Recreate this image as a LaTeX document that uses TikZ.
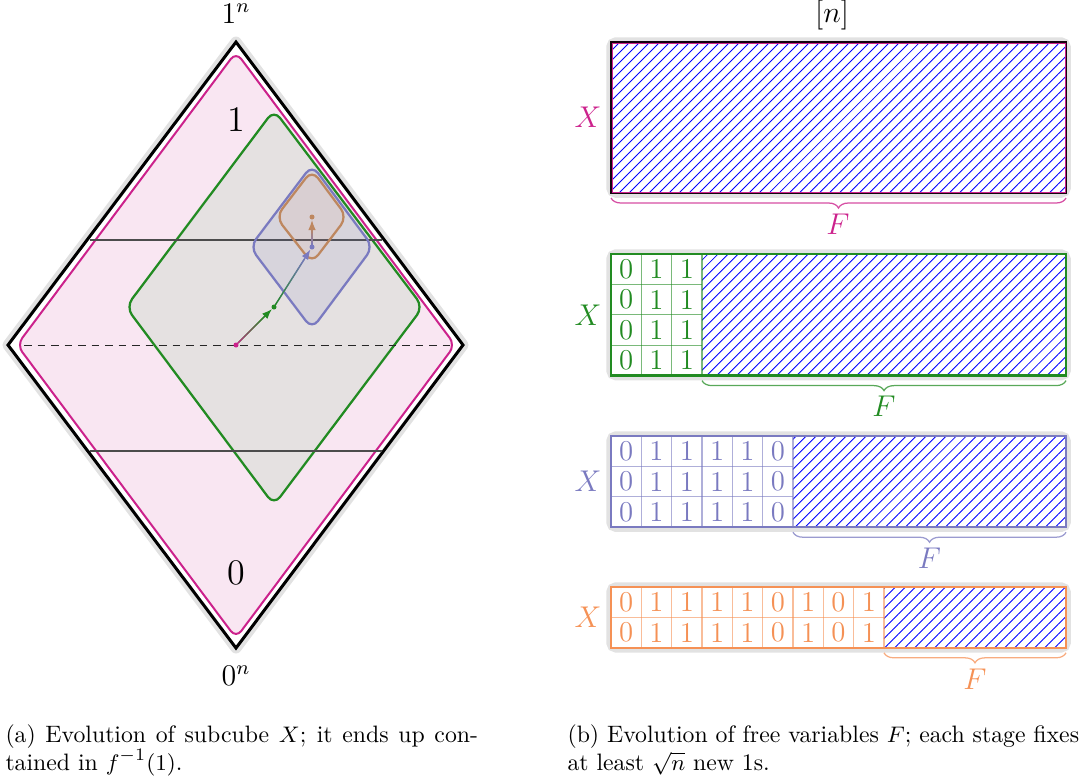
\documentclass[tikz,border=0pt]{standalone}
\usetikzlibrary{arrows.meta,patterns.meta,decorations.pathreplacing,calc}
\definecolor{mag}{RGB}{204,34,140}
\definecolor{magfill}{RGB}{249,230,242}
\definecolor{grn}{RGB}{34,139,34}
\definecolor{pur}{RGB}{122,122,192}
\definecolor{org}{RGB}{245,145,85}
\definecolor{brn}{RGB}{190,135,95}
\definecolor{halo}{RGB}{226,226,226}
\definecolor{graypanel}{RGB}{229,225,225}
\tikzset{
  dotnode/.style={circle,inner sep=0pt,minimum size=2pt},
  digit/.style={inner sep=0pt,font=\fontsize{11.5}{13}\selectfont},
  biglab/.style={font=\fontsize{15.5}{18}\selectfont},
  lab/.style={font=\large},
  caption/.style={anchor=base west,inner sep=0pt,font=\fontsize{9.5}{11}\selectfont},
  hatch/.style={pattern={Lines[angle=45,distance=2.83pt,line width=0.35pt]},pattern color=blue},
  halo line/.style={line width=3.8pt,halo,rounded corners=2pt},
  levelline/.style={black!70,line width=0.6pt},
  fbrace/.style={decorate,decoration={brace,mirror,amplitude=4pt},line width=0.5pt},
}
\newcommand\gradarrow[5]{% #1 from, #2 to, #3 start colour, #4 end colour, #5 fraction
  \draw[#4,line width=0.5pt,-{Latex[length=4pt,width=3pt]}] (#1) -- (#2);
  \foreach \k in {0,...,9} {
    \pgfmathtruncatemacro\pa{100-\k*10}
    \draw[#3!\pa!#4,line width=0.55pt] ($(#1)!{\k/10*#5}!(#2)$) -- ($(#1)!{(\k+1)/10*#5}!(#2)$);
  }
}
\newcommand\drawpanel[6]{% #1 top, #2 rows, #3 digits, #4 fixed cols, #5 colour, #6 name
  \pgfmathsetmacro\ybot{#1+30.4*#2}
  \pgfmathsetmacro\xh{611+30.33*#4}
  \draw[halo line] (611,#1) rectangle (1066,\ybot);
  \fill[white] (611,#1) rectangle (1066,\ybot);
  \fill[hatch] (\xh,#1) rectangle (1066,\ybot);
  \foreach \d [count=\i] in {#3} {
    \foreach \j in {1,...,#2} {
      \node[digit,text=#5] at ({611+30.33*(\i-0.5)},{#1+30.4*(\j-0.5)}) {\d};
    }
    \draw[#5,opacity=0.6,line width=0.5pt] ({611+30.33*\i},#1) -- ({611+30.33*\i},\ybot);
  }
  \foreach \j in {1,...,#2} {
    \draw[#5,opacity=0.6,line width=0.5pt] (611,{#1+30.4*\j}) -- (\xh,{#1+30.4*\j});
  }
  \draw[#5,line width=1pt] (611,#1) rectangle (1066,\ybot);
  \node[lab,text=#5] (X#6) at (588,{(#1+\ybot)/2}) {$X$};
  \coordinate (bl#6) at (\xh,\ybot+5);
  \coordinate (br#6) at (1066,\ybot+5);
  \draw[fbrace,#5!75] (bl#6) -- (br#6);
  \node[lab,text=#5] (F#6) at ({(\xh+1066)/2},\ybot+31) {$F$};
}
\begin{document}
\begin{tikzpicture}[x=0.4pt,y=-0.4pt]
\useasboundingbox (0,0) rectangle (1083,782);
% ---------- left: hypercube diamond ----------
\coordinate (T) at (236,42);
\coordinate (R) at (463,345);
\coordinate (B) at (236,648);
\coordinate (L) at (8,345);
\draw[line width=4.4pt,halo,line join=round] (T)--(R)--(B)--(L)--cycle;
\fill[white] (T)--(R)--(B)--(L)--cycle;
\draw[line width=1.2pt,black] (T)--(R)--(B)--(L)--cycle;
\draw[mag,line width=0.8pt,fill=magfill,rounded corners=3.5pt] (236,52)--(455,345)--(236,638)--(17,345)--cycle;
\draw[grn,line width=0.9pt,fill=graypanel,rounded corners=4pt] (274,110)--(423,307)--(274,505)--(126,307)--cycle;
\draw[levelline] (90,240) -- (382,240);
\draw[levelline] (90,451) -- (382,451);
\draw[black!85,line width=0.4pt,dash pattern=on 3pt off 2.4pt] (24,345) -- (452,345);
\draw[pur,line width=0.9pt,fill=pur,fill opacity=0.12,rounded corners=4pt] (312,165)--(373,247)--(312,329)--(250,247)--cycle;
\draw[brn,line width=0.9pt,fill=org,fill opacity=0.07,rounded corners=4pt] (312,170)--(347,217)--(312,263)--(276,217)--cycle;
\node[lab] (top) at (236,14) {$1^n$};
\node[lab] (bot) at (236,676) {$0^n$};
\node[biglab] (one) at (236,120) {$1$};
\node[biglab] (zero) at (236,573) {$0$};
\coordinate (c0) at (236,345);
\coordinate (c1) at (274,307);
\coordinate (c2) at (312,247);
\coordinate (c3) at (312,217);
\node[dotnode] (p0) at (c0) {};
\node[dotnode] (p1) at (c1) {};
\node[dotnode] (p2) at (c2) {};
\node[dotnode] (p3) at (c3) {};
\gradarrow{p0}{p1}{mag}{grn}{0.75}
\gradarrow{p1}{p2}{grn}{pur}{0.8}
\gradarrow{p2}{p3}{pur}{brn}{0.6}
\fill[mag] (c0) circle (1pt);
\fill[grn] (c1) circle (1pt);
\fill[pur] (c2) circle (1pt);
\fill[brn] (c3) circle (1pt);
% ---------- right: free variables ----------
\node[lab] (nlab) at (832,15) {$[n]$};
\draw[halo line] (611,42) rectangle (1066,193);
\fill[white] (611,42) rectangle (1066,193);
\fill[hatch] (611,42) rectangle (1066,193);
\draw[black!90!mag,line width=1.1pt] (611,42) rectangle (1066,193);
\draw[mag,line width=0.35pt] (612,43) rectangle (1065,192);
\node[lab,text=mag] (Xa) at (588,117) {$X$};
\coordinate (bla) at (611,198);
\coordinate (bra) at (1066,198);
\draw[fbrace,mag!80] (bla) -- (bra);
\node[lab,text=mag] (Fa) at (838,224) {$F$};
\drawpanel{254}{4}{0,1,1}{3}{grn}{b}
\drawpanel{436}{3}{0,1,1,1,1,0}{6}{pur}{c}
\drawpanel{587}{2}{0,1,1,1,1,0,1,0,1}{9}{org}{d}
% ---------- captions ----------
\node[caption] (capa1) at (5,742) {\makebox[189pt][s]{(a) Evolution of subcube $X$; it ends up con-}};
\node[caption] (capa2) at (5,770) {tained in $f^{-1}(1)$.};
\node[caption] (capb1) at (567,742) {(b) Evolution of free variables $F$; each stage fixes};
\node[caption] (capb2) at (567,770) {at least $\sqrt{n}$ new 1s.};
\end{tikzpicture}
\end{document}
